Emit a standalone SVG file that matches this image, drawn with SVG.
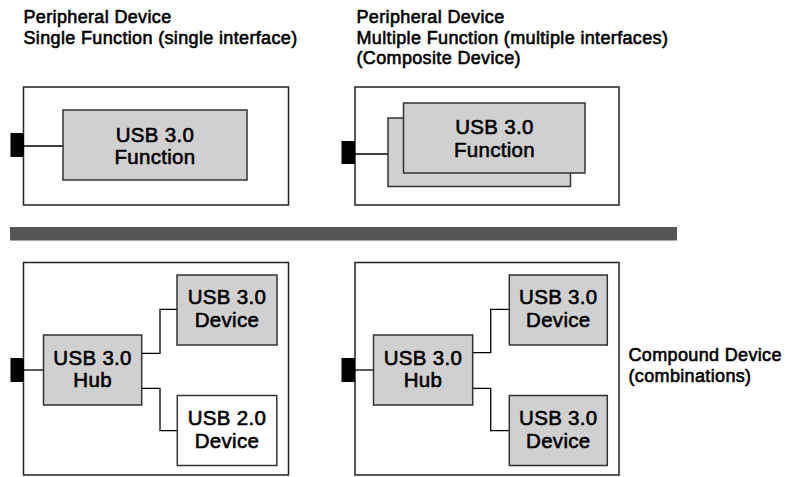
<svg xmlns="http://www.w3.org/2000/svg" width="812" height="477" viewBox="0 0 812 477">
<style>
text{font-family:"Liberation Sans",Arial,Helvetica,sans-serif;fill:#000;stroke:#000;stroke-width:0.6;stroke-linejoin:round}
.h{font-size:18px;letter-spacing:0.35px}
.b{font-size:20.5px;letter-spacing:0.3px;text-anchor:middle}
.outer{fill:#fff;stroke:#222;stroke-width:1.5}
.node{fill:#d0d0d0;stroke:#333;stroke-width:1.5}
.white{fill:#fff;stroke:#333;stroke-width:1.5}
.port{fill:#000}
.wire{fill:none;stroke:#000;stroke-width:1.3}
</style>
<rect width="812" height="477" fill="#fff"/>

<g id="headings">
<text class="h" x="23.5" y="23">Peripheral Device</text>
<text class="h" x="23.5" y="43.5">Single Function (single interface)</text>
<text class="h" x="356.5" y="23">Peripheral Device</text>
<text class="h" x="356.5" y="43.5">Multiple Function (multiple interfaces)</text>
<text class="h" x="356.5" y="64">(Composite Device)</text>
<text class="h" x="628.5" y="361">Compound Device</text>
<text class="h" x="628.5" y="382">(combinations)</text>
</g>

<rect id="separator" x="10" y="227" width="667" height="13.5" fill="#555"/>

<g id="single-device">
<rect class="outer" x="23.5" y="87" width="265" height="118"/>
</g>
<g id="composite-device">
<rect class="outer" x="355" y="87" width="264" height="118"/>
</g>
<g id="compound-left">
<rect class="outer" x="23.5" y="262.5" width="265" height="212.5"/>
</g>
<g id="compound-right">
<rect class="outer" x="355" y="262.5" width="264" height="212.5"/>
</g>

<g id="connectors">
<rect class="port" x="10.5" y="133" width="13.5" height="24"/>
<line class="wire" x1="24" y1="146" x2="63" y2="146"/>
<rect class="port" x="341.5" y="141" width="13.5" height="23"/>
<line class="wire" x1="355" y1="154" x2="388" y2="154"/>
<rect class="port" x="10.5" y="358" width="13.5" height="24"/>
<line class="wire" x1="24" y1="370" x2="43.5" y2="370"/>
<rect class="port" x="341.5" y="358" width="13.5" height="24"/>
<line class="wire" x1="355" y1="370" x2="373.5" y2="370"/>
<polyline class="wire" points="141.7,353.3 160,353.3 160,309.3 177,309.3"/>
<polyline class="wire" points="141.7,388.3 160,388.3 160,430.7 177.3,430.7"/>
<polyline class="wire" points="472.7,352.7 490.7,352.7 490.7,309.3 509.3,309.3"/>
<polyline class="wire" points="472.7,388.3 490.7,388.3 490.7,430.7 509.3,430.7"/>
</g>

<g id="function-single">
<rect class="node" x="63" y="110" width="184" height="70"/>
<text class="b" x="155" y="142">USB 3.0</text>
<text class="b" x="155" y="163.5">Function</text>
</g>

<g id="function-multi">
<rect class="node" x="388" y="118" width="182.5" height="68.5"/>
<rect class="node" x="403.5" y="103" width="181.5" height="70"/>
<text class="b" x="494.5" y="134">USB 3.0</text>
<text class="b" x="494.5" y="156.5">Function</text>
</g>

<g id="hub-left">
<rect class="node" x="43.5" y="335" width="98.2" height="70"/>
<text class="b" x="92.6" y="365">USB 3.0</text>
<text class="b" x="92.6" y="387">Hub</text>
</g>
<g id="dev30-left">
<rect class="node" x="177" y="275" width="100" height="70"/>
<text class="b" x="227" y="304">USB 3.0</text>
<text class="b" x="227" y="327">Device</text>
</g>
<g id="dev20-left">
<rect class="white" x="177.3" y="395.5" width="99.5" height="70"/>
<text class="b" x="227" y="425">USB 2.0</text>
<text class="b" x="227" y="448">Device</text>
</g>

<g id="hub-right">
<rect class="node" x="373.5" y="335" width="99.2" height="70"/>
<text class="b" x="423" y="365">USB 3.0</text>
<text class="b" x="423" y="387">Hub</text>
</g>
<g id="dev30-right-top">
<rect class="node" x="509.3" y="275" width="98" height="70"/>
<text class="b" x="558.3" y="304">USB 3.0</text>
<text class="b" x="558.3" y="327">Device</text>
</g>
<g id="dev30-right-bottom">
<rect class="node" x="509.3" y="395.5" width="98" height="70"/>
<text class="b" x="558.3" y="425">USB 3.0</text>
<text class="b" x="558.3" y="448">Device</text>
</g>
</svg>
